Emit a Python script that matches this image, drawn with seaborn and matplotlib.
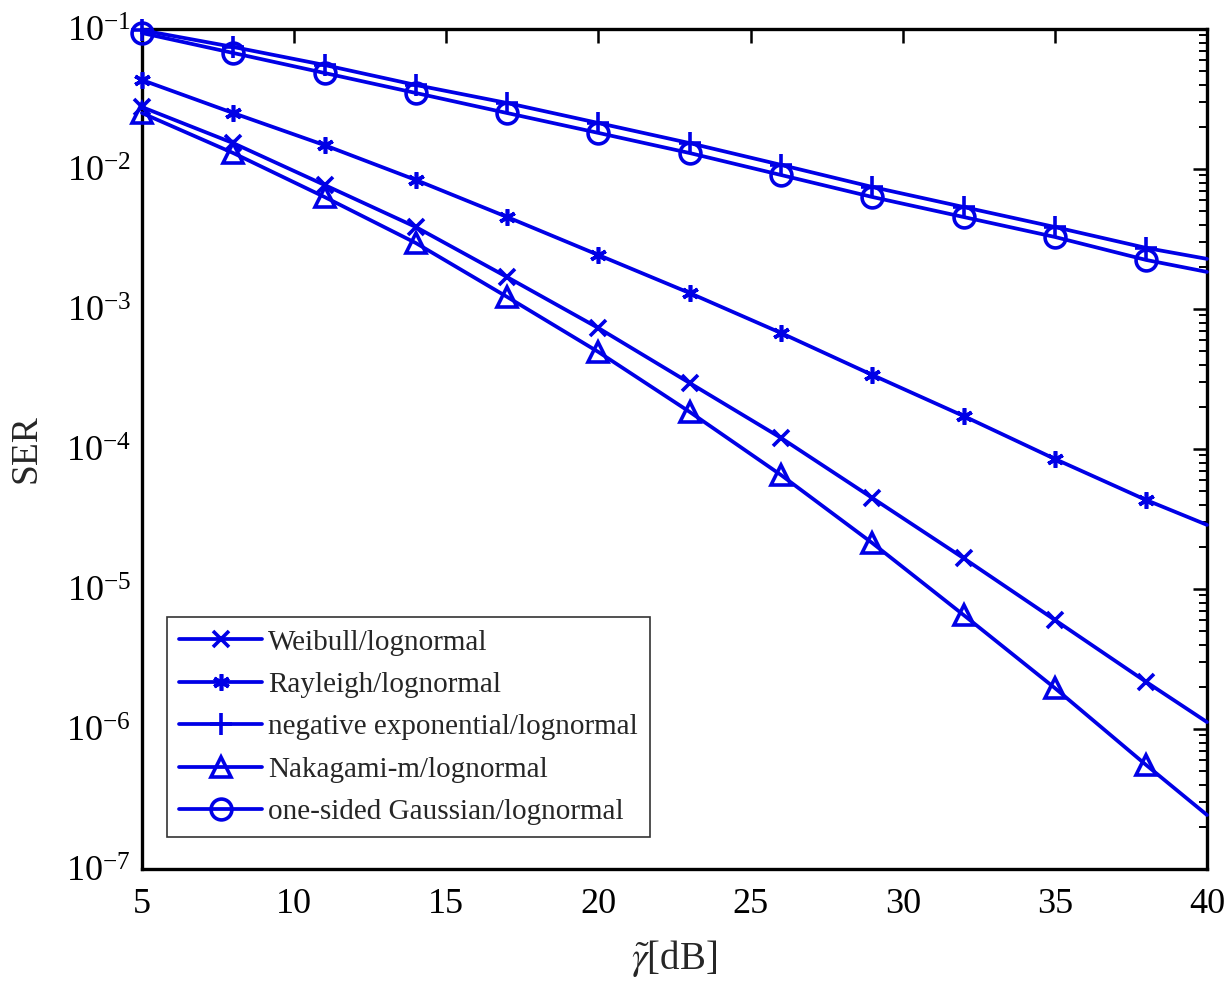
import numpy as np
import pandas as pd
import matplotlib
matplotlib.use("Agg")
import matplotlib.pyplot as plt
import matplotlib.ticker as mticker
import seaborn as sns

# ---------------- data ----------------
snr_db = [5, 8, 11, 14, 17, 20, 23, 26, 29, 32, 35, 38, 40]

weibull = [2.77e-2, 1.53e-2, 7.69e-3, 3.85e-3, 1.69e-3, 7.31e-4, 2.96e-4,
           1.20e-4, 4.47e-5, 1.66e-5, 6.01e-6, 2.17e-6, 1.12e-6]
rayleigh = [4.32e-2, 2.51e-2, 1.48e-2, 8.35e-3, 4.54e-3, 2.43e-3, 1.30e-3,
            6.74e-4, 3.38e-4, 1.72e-4, 8.49e-5, 4.32e-5, 2.87e-5]
neg_exp = [9.8e-2, 7.44e-2, 5.53e-2, 3.98e-2, 2.96e-2, 2.13e-2, 1.53e-2,
           1.07e-2, 7.44e-3, 5.35e-3, 3.85e-3, 2.73e-3, 2.28e-3]
nakagami = [2.51e-2, 1.30e-2, 6.31e-3, 2.96e-3, 1.22e-3, 4.93e-4, 1.84e-4,
            6.52e-5, 2.13e-5, 6.52e-6, 1.96e-6, 5.53e-7, 2.43e-7]
gaussian = [9.36e-2, 6.74e-2, 4.85e-2, 3.49e-2, 2.51e-2, 1.81e-2, 1.30e-2,
            9.06e-3, 6.31e-3, 4.54e-3, 3.27e-3, 2.24e-3, 1.84e-3]

labels = ["Weibull/lognormal", "Rayleigh/lognormal",
          "negative exponential/lognormal", "Nakagami-m/lognormal",
          "one-sided Gaussian/lognormal"]
series = [weibull, rayleigh, neg_exp, nakagami, gaussian]

yticks = [1e-7, 1e-6, 1e-5, 1e-4, 1e-3, 1e-2, 1e-1]
xticks = [5, 10, 15, 20, 25, 30, 35, 40]

# ---------------- style ----------------
sns.set_theme(style="white")
plt.rcParams["font.family"] = ["Liberation Serif", "DejaVu Serif"]
plt.rcParams["mathtext.fontset"] = "stix"

asterisk = (6, 2, 0)
markers = ["x", asterisk, "+", "^", "o"]
msizes = [12, 12, 16, 15, 15]
color = "#0000e6"

fig = plt.figure(figsize=(12.31, 9.86), dpi=100)
ax = fig.add_axes([0.1153, 0.1187, 0.8652, 0.8519])

n_marked = len(snr_db) - 1
for vals, lab, mk, ms in zip(series, labels, markers, msizes):
    df = pd.DataFrame({"snr": snr_db, "ser": vals})
    sns.lineplot(data=df, x="snr", y="ser", ax=ax, color=color,
                 linewidth=2.7, marker=mk, markersize=ms,
                 markeredgewidth=2.6, markeredgecolor=color,
                 markerfacecolor="none" if mk in ("^", "o") else color,
                 markevery=list(range(n_marked)), label=lab, clip_on=False,
                 zorder=3)

ax.set_yscale("log")
ax.set_xlim(5, 40)
ax.set_ylim(1e-7, 1e-1)
ax.set_xticks(xticks)
ax.set_yticks(yticks)
ax.yaxis.set_major_formatter(mticker.LogFormatterMathtext())
ax.yaxis.set_minor_locator(mticker.LogLocator(base=10, subs=np.arange(2, 10), numticks=20))
ax.yaxis.set_minor_formatter(mticker.NullFormatter())

ax.tick_params(axis="both", which="both", direction="in", top=True, right=True,
               labelsize=26, colors="black")
ax.tick_params(axis="both", which="major", length=10, width=1.8)
ax.tick_params(axis="x", which="major", pad=14)
ax.tick_params(axis="y", which="major", pad=8)
ax.tick_params(axis="y", which="minor", length=6, width=1.4)
ax.tick_params(axis="x", which="minor", bottom=False, top=False)

for sp in ax.spines.values():
    sp.set_visible(True)
    sp.set_color("black")
    sp.set_linewidth(2.4)

ax.set_xlabel(r"$\tilde{\gamma}$[dB]", fontsize=28, labelpad=12)
ax.set_ylabel("SER", fontsize=27, labelpad=16)
ax.grid(False)

leg = ax.legend(loc="lower left", bbox_to_anchor=(0.024, 0.038),
                borderaxespad=0, fontsize=21, handlelength=2.85,
                handletextpad=0.2, labelspacing=0.55, borderpad=0.4,
                fancybox=False, framealpha=1, edgecolor="#333333")
leg.get_frame().set_linewidth(1.2)
leg.set_zorder(5)

fig.savefig("out.png", dpi=100)
